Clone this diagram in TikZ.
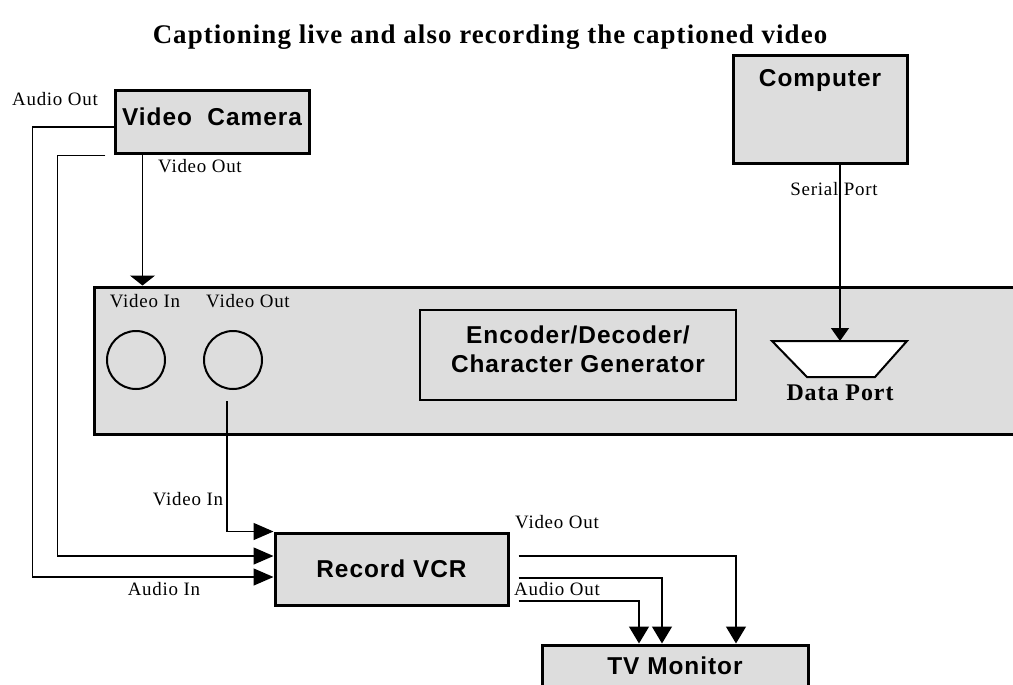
\documentclass[tikz,border=0pt]{standalone}
\usepackage{fontspec}
\setmainfont{Liberation Serif}
\setsansfont{Liberation Sans}
\newfontfamily\lblfam[LetterSpace=4]{Liberation Serif}
\newfontfamily\boxfam[LetterSpace=4]{Liberation Sans}
\usetikzlibrary{arrows.meta}
\definecolor{boxgray}{RGB}{221,221,221}
\begin{document}
\begin{tikzpicture}[x=1bp,y=-1bp,
  heavybox/.style={draw, line width=3bp, fill=boxgray, inner sep=0},
  boxtxt/.style={font=\boxfam\bfseries\fontsize{24.5}{29}\selectfont, inner sep=0},
  lbl/.style={font=\lblfam\fontsize{19}{22}\selectfont, inner sep=0},
  titletxt/.style={font=\lblfam\bfseries\fontsize{27}{30}\selectfont, inner sep=0},
  dptxt/.style={font=\lblfam\bfseries\fontsize{24}{28}\selectfont, inner sep=0},
  jack/.style={circle, draw, line width=2bp, minimum size=58bp, inner sep=0},
  wire/.style={line width=1.4bp},
  vcrarrow/.style={wire, -{Triangle[length=20bp,width=17bp]}},
  tvarrow/.style={wire, -{Triangle[length=17bp,width=20bp]}},
  serialarrow/.style={wire, -{Triangle[length=13bp,width=18bp]}},
  camarrow/.style={wire, -{Triangle[length=10bp,width=25bp]}}
]
\useasboundingbox (0,0) rectangle (1013,685);
\fill[white] (0,0) rectangle (1013,685);

% title
\node[titletxt] (title) at (490,37) {Captioning live and also recording the captioned video};

% camera
\node[heavybox, minimum width=194bp, minimum height=62bp,
      label={[boxtxt, anchor=center, yshift=5bp, name=camlbl]center:Video\ \ Camera}] (cam) at (212,122) {};
\node[lbl] (camaudiolbl) at (55,99) {Audio Out};
\node[lbl] (camvideolbl) at (200,166) {Video Out};

% computer
\node[heavybox, minimum width=174bp, minimum height=107bp,
      label={[boxtxt, anchor=center, yshift=-26bp, name=complbl]north:Computer}] (comp) at (820,109.5) {};
\node[lbl] (seriallbl) at (834,189) {Serial Port};

% encoder unit
\node[heavybox, minimum width=919bp, minimum height=147bp] (unit) at (554.5,360.5) {};
\node[lbl] (vinlbl) at (145,301) {Video In};
\node[lbl] (voutlbl) at (248,301) {Video Out};
\node[jack] (vin) at (136,360) {};
\node[jack] (vout) at (233,360) {};
\node[draw, line width=1.5bp, minimum width=316bp, minimum height=90bp, inner sep=0,
      label={[boxtxt, align=center, anchor=center, yshift=5.5bp, name=enclbl]center:Encoder/Decoder/\\Character Generator}] (enc) at (578,355) {};
\draw[line width=2bp, fill=white] (772,341) -- (907,341) -- (875,377) -- (807,377) -- cycle;
\coordinate (dp) at (840,341);
\node[dptxt] (dplbl) at (840,393) {Data Port};

% VCR and TV
\node[heavybox, minimum width=233bp, minimum height=72bp, font=\boxfam\bfseries\fontsize{24.5}{29}\selectfont] (vcr) at (391.5,569) {Record VCR};
\node[heavybox, minimum width=266bp, minimum height=60bp,
      label={[boxtxt, anchor=center, yshift=-22bp, name=tvlbl]north:TV Monitor}] (tv) at (675,675) {};

\node[lbl] (vcrvinlbl) at (188,499) {Video In};
\node[lbl] (vcrainlbl) at (164,589) {Audio In};
\node[lbl] (vcrvoutlbl) at (557,522) {Video Out};
\node[lbl] (vcraoutlbl) at (557,589) {Audio Out};

% connectors
\draw[camarrow] ([xshift=29bp]cam.south west) -- ([xshift=29bp]cam.south west |- unit.north);
\draw[serialarrow] (dp |- comp.south) -- (dp);
\draw[vcrarrow] ([xshift=-6bp,yshift=-11bp]vout.south) |- (vcr.north west);
\draw[vcrarrow] ([xshift=-8bp,yshift=-1bp]cam.south west) -- ++(-48bp,0) |- ([yshift=13bp]vcr.west);
\draw[vcrarrow] ([yshift=-5bp]cam.west) -- ++(-81bp,0) |- ([yshift=-8bp]vcr.west);
\draw[tvarrow] ([xshift=9bp,yshift=13bp]vcr.east) -| ([xshift=61bp]tv.north);
\draw[tvarrow] ([xshift=9bp,yshift=-9bp]vcr.east) -| ([xshift=-13bp]tv.north);
\draw[tvarrow] ([xshift=9bp,yshift=-32bp]vcr.east) -| ([xshift=-36bp]tv.north);
\end{tikzpicture}
\end{document}
